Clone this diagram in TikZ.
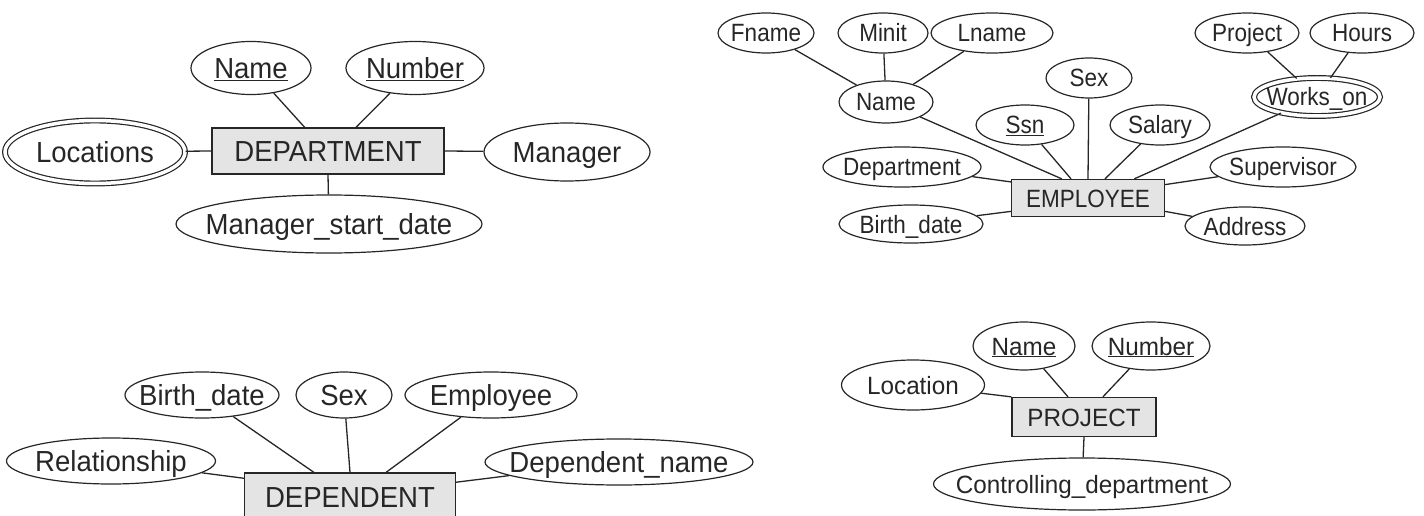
\documentclass[tikz,border=0pt]{standalone}
\usepackage{fontspec}
\setmainfont{Liberation Sans}
\newfontfamily\bigsans[FakeStretch=0.95]{Liberation Sans}
\newfontfamily\midsans[FakeStretch=0.97]{Liberation Sans}
\newfontfamily\smallsans[FakeStretch=0.9]{Liberation Sans}
\usetikzlibrary{shapes.geometric,calc}
\definecolor{ink}{HTML}{262626}
\definecolor{boxfill}{HTML}{E4E4E4}
% centred label that does not influence the size of its shape
\newcommand\atxt[1]{\makebox[0pt]{\raisebox{-0.36em}[0pt][0pt]{#1}}}

\begin{document}
\begin{tikzpicture}[x=1pt,y=-1pt,
  attr/.style={ellipse, draw=ink, line width=1.2pt, inner sep=0pt, text=ink},
  multi/.style={attr, double=white, double distance=3.5pt},
  entity/.style={rectangle, draw=ink, fill=boxfill, line width=1.3pt, inner sep=0pt, text=ink},
  link/.style={draw=ink, line width=1.3pt},
  big/.style={font=\bigsans\fontsize{29}{32}\selectfont},
  mid/.style={font=\midsans\fontsize{25}{28}\selectfont},
  small/.style={font=\smallsans\fontsize{25}{28}\selectfont}]
\useasboundingbox (0,0) rectangle (1424,516);
\clip (0,0) rectangle (1424,516);

% ---------------- DEPARTMENT ----------------
\begin{scope}[every node/.append style={big}]
\node[entity, minimum width=232pt, minimum height=46pt] (dept) at (328,151) {\atxt{DEPARTMENT}};
\node[attr, minimum width=120pt, minimum height=53pt] (dname) at (251,68) {\atxt{\underline{Name}}};
\node[attr, minimum width=138pt, minimum height=53pt] (dnum) at (415,68) {\atxt{\underline{Number}}};
\node[multi, minimum width=180pt, minimum height=63pt] (dloc) at (95,152) {\atxt{Locations}};
\node[attr, minimum width=166pt, minimum height=58pt] (dmgr) at (567,152) {\atxt{Manager}};
\node[attr, minimum width=306pt, minimum height=58pt] (dmsd) at (329,224) {\atxt{Manager\_start\_date}};
\end{scope}
\draw[link] (dname) -- ($(dept.north west)!.40!(dept.north east)$);
\draw[link] (dnum) -- ($(dept.north west)!.62!(dept.north east)$);
\draw[link] (dloc) -- (dept.west);
\draw[link] (dept.east) -- (dmgr);
\draw[link] (dept.south) -- (dmsd);

% ---------------- EMPLOYEE ----------------
\begin{scope}[every node/.append style={small}]
\node[entity, minimum width=153pt, minimum height=37pt] (emp) at (1088,198) {\atxt{EMPLOYEE}};
\node[attr, minimum width=96pt, minimum height=40pt] (efn) at (766,33) {\atxt{Fname}};
\node[attr, minimum width=90pt, minimum height=40pt] (emi) at (883,33) {\atxt{Minit}};
\node[attr, minimum width=122pt, minimum height=40pt] (eln) at (992,33) {\atxt{Lname}};
\node[attr, minimum width=94pt, minimum height=42pt] (ename) at (886,102) {\atxt{Name}};
\node[attr, minimum width=86pt, minimum height=40pt] (esex) at (1089,78) {\atxt{Sex}};
\node[attr, minimum width=98pt, minimum height=40pt] (essn) at (1025,125) {\atxt{\underline{Ssn}}};
\node[attr, minimum width=100pt, minimum height=40pt] (esal) at (1160,125) {\atxt{Salary}};
\node[attr, minimum width=104pt, minimum height=40pt] (eproj) at (1247,33) {\atxt{Project}};
\node[attr, minimum width=104pt, minimum height=40pt] (ehrs) at (1362,33) {\atxt{Hours}};
\node[multi, minimum width=126pt, minimum height=38pt] (ework) at (1317,97) {\atxt{Works\_on}};
\node[attr, minimum width=158pt, minimum height=40pt] (edep) at (902,167) {\atxt{Department}};
\node[attr, minimum width=146pt, minimum height=40pt] (esup) at (1283,167) {\atxt{Supervisor}};
\node[attr, minimum width=144pt, minimum height=38pt] (ebd) at (911,224) {\atxt{Birth\_date}};
\node[attr, minimum width=120pt, minimum height=38pt] (eadr) at (1245,226) {\atxt{Address}};
\end{scope}
\draw[link] (efn) -- (ename);
\draw[link] (emi) -- (ename);
\draw[link] (eln) -- (ename);
\draw[link] (eproj) -- (ework);
\draw[link] (ehrs) -- (ework);
\draw[link] (ename) -- ($(emp.north west)!.33!(emp.north east)$);
\draw[link] (essn) -- ($(emp.north west)!.39!(emp.north east)$);
\draw[link] (esex) -- (emp.north);
\draw[link] (esal) -- ($(emp.north west)!.61!(emp.north east)$);
\draw[link] (ework) -- ($(emp.north west)!.80!(emp.north east)$);
\draw[link] (edep) -- ($(emp.north west)!.08!(emp.south west)$);
\draw[link] (esup) -- ($(emp.north east)!.15!(emp.south east)$);
\draw[link] (ebd) -- ($(emp.north west)!.85!(emp.south west)$);
\draw[link] (eadr) -- ($(emp.north east)!.85!(emp.south east)$);

% ---------------- DEPENDENT ----------------
\begin{scope}[every node/.append style={big}]
\node[entity, minimum width=211pt, minimum height=48pt] (dep) at (350,497) {\atxt{DEPENDENT}};
\node[attr, minimum width=154pt, minimum height=46pt] (pbd) at (202,395) {\atxt{Birth\_date}};
\node[attr, minimum width=96pt, minimum height=46pt] (psex) at (344,395) {\atxt{Sex}};
\node[attr, minimum width=172pt, minimum height=46pt] (pemp) at (491,395) {\atxt{Employee}};
\node[attr, minimum width=209pt, minimum height=46pt] (prel) at (111,461) {\atxt{Relationship}};
\node[attr, minimum width=268pt, minimum height=46pt] (pdn) at (619,462) {\atxt{Dependent\_name}};
\end{scope}
\draw[link] (pbd) -- ($(dep.north west)!.33!(dep.north east)$);
\draw[link] (psex) -- ($(dep.north west)!.5!(dep.north east)$);
\draw[link] (pemp) -- ($(dep.north west)!.67!(dep.north east)$);
\draw[link] (prel) -- ($(dep.north west)!.12!(dep.south west)$);
\draw[link] (pdn) -- ($(dep.north east)!.2!(dep.south east)$);

% ---------------- PROJECT ----------------
\begin{scope}[every node/.append style={mid}]
\node[entity, minimum width=144pt, minimum height=39pt] (proj) at (1084,417) {\atxt{PROJECT}};
\node[attr, minimum width=102pt, minimum height=48pt] (jname) at (1024,346) {\atxt{\underline{Name}}};
\node[attr, minimum width=118pt, minimum height=48pt] (jnum) at (1151,346) {\atxt{\underline{Number}}};
\node[attr, minimum width=143pt, minimum height=50pt] (jloc) at (913,385) {\atxt{Location}};
\node[attr, minimum width=297pt, minimum height=52pt] (jctl) at (1082,484) {\atxt{Controlling\_department}};
\end{scope}
\draw[link] (jname) -- ($(proj.north west)!.39!(proj.north east)$);
\draw[link] (jnum) -- ($(proj.north west)!.63!(proj.north east)$);
\draw[link] (jloc) -- (proj.north west);
\draw[link] (proj.south) -- (jctl);
\end{tikzpicture}
\end{document}
